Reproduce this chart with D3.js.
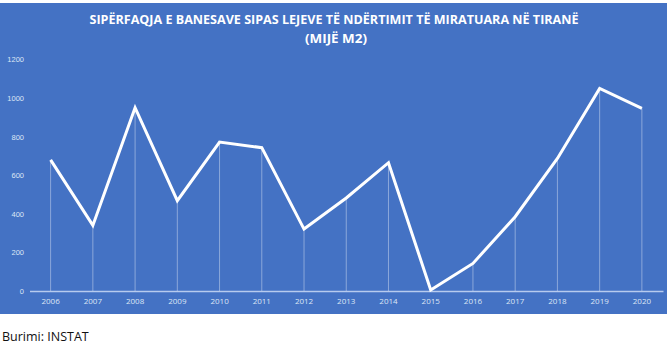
<!DOCTYPE html>
<html>
<head>
<meta charset="utf-8">
<script src="https://cdn.jsdelivr.net/npm/d3@7"></script>
<style>
  html, body { margin: 0; padding: 0; background: #ffffff; }
  svg { display: block; }
</style>
</head>
<body>
<svg id="chart" width="668" height="348"></svg>
<script>
// Sipërfaqja e banesave (mijë m2) sipas lejeve të ndërtimit, Tiranë
const years = ["2006","2007","2008","2009","2010","2011","2012","2013","2014","2015","2016","2017","2018","2019","2020"];
const values = [680, 340, 950, 468, 772, 743, 321, 482, 665, 5, 143, 385, 687, 1050, 947];
const yTicks = [0, 200, 400, 600, 800, 1000, 1200];
const titleLines = ["SIPËRFAQJA E BANESAVE SIPAS LEJEVE TË NDËRTIMIT TË MIRATUARA NË TIRANË", "(MIJË M2)"];
const sourceNote = "Burimi: INSTAT";

const svg = d3.select("#chart");
const W = 668;

// panel background
svg.append("rect")
  .attr("x", 0).attr("y", 3)
  .attr("width", 667).attr("height", 311)
  .attr("fill", "#4472C4");

const x = d3.scaleBand().domain(years).range([29.5, 663]).paddingInner(0).paddingOuter(0);
const y = d3.scaleLinear().domain([0, 1200]).range([291, 59.5]);

// title
const title = svg.append("g").attr("fill", "#ffffff")
  .attr("font-family", "'Open Sans', 'Noto Sans', sans-serif")
  .attr("font-weight", "bold")
  .attr("text-anchor", "middle");
title.append("text").attr("x", W / 2).attr("y", 24)
  .attr("font-size", 12.5)
  .attr("textLength", 489).attr("lengthAdjust", "spacingAndGlyphs")
  .text(titleLines[0]);
title.append("text").attr("x", W / 2 + 2).attr("y", 43)
  .attr("font-size", 12.5)
  .attr("textLength", 62).attr("lengthAdjust", "spacingAndGlyphs")
  .text(titleLines[1]);

// y axis labels (no line)
const yAxis = d3.axisLeft(y).tickValues(yTicks).tickFormat(d3.format("d")).tickSize(0).tickPadding(0);
const gy = svg.append("g").attr("transform", "translate(24,0)").call(yAxis);
gy.select(".domain").remove();
gy.selectAll("text")
  .attr("fill", "#dde6f5")
  .attr("font-family", "'Liberation Sans', Arial, sans-serif")
  .attr("font-size", 7.5);

// x axis
const xAxis = d3.axisBottom(x).tickSize(0).tickPadding(7);
const gx = svg.append("g").attr("transform", `translate(0,${y(0)})`).call(xAxis);
gx.select(".domain").attr("stroke", "#b7cbee").attr("stroke-width", 1.6);
gx.selectAll("text")
  .attr("fill", "#dde6f5")
  .attr("font-family", "'Open Sans', 'Noto Sans', sans-serif")
  .attr("font-size", 8);

const cx = d => x(d) + x.bandwidth() / 2;

// drop lines from each point to the axis
svg.append("g").selectAll("line")
  .data(years)
  .join("line")
  .attr("x1", d => cx(d)).attr("x2", d => cx(d))
  .attr("y1", (d, i) => y(values[i])).attr("y2", y(0))
  .attr("stroke", "rgba(255,255,255,0.38)")
  .attr("stroke-width", 1);

// series line
const line = d3.line()
  .x((d, i) => cx(years[i]))
  .y(d => y(d));
svg.append("path")
  .datum(values)
  .attr("d", line)
  .attr("fill", "none")
  .attr("stroke", "#ffffff")
  .attr("stroke-width", 3)
  .attr("stroke-linejoin", "miter");

// source
svg.append("text")
  .attr("x", 2).attr("y", 341)
  .attr("font-family", "'Open Sans', 'Noto Sans', sans-serif")
  .attr("font-size", 12.5)
  .attr("fill", "#111111")
  .text(sourceNote);
</script>
</body>
</html>
